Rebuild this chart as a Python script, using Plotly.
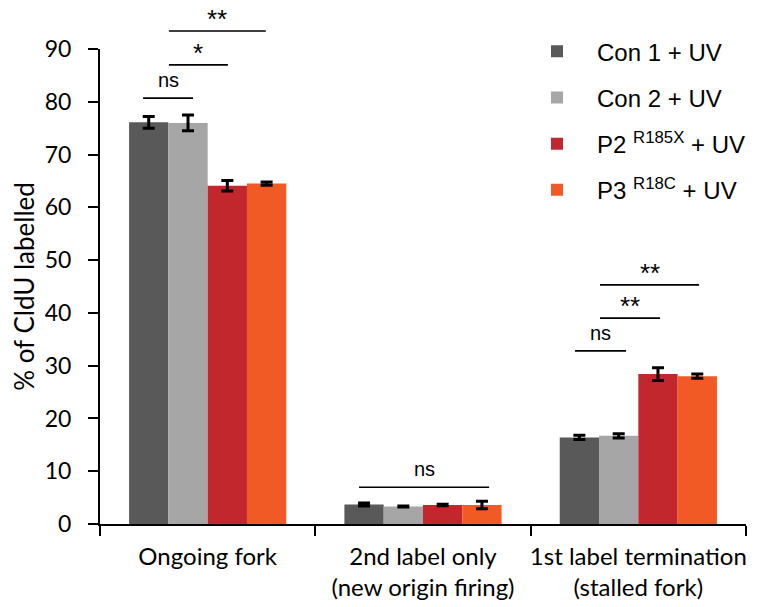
import plotly.graph_objects as go

# ---------------- data ----------------
categories = ["Ongoing fork",
              "2nd label only<br>(new origin firing)",
              "1st label termination<br>(stalled fork)"]
series_names = ["Con 1 + UV", "Con 2 + UV",
                "P2 <sup>R185X</sup> + UV", "P3 <sup>R18C</sup> + UV"]
con1 = [76.1, 3.7, 16.4]
con1_err = [1.1, 0.3, 0.4]
con2 = [76.0, 3.3, 16.7]
con2_err = [1.5, 0.1, 0.4]
p2 = [64.1, 3.6, 28.4]
p2_err = [1.0, 0.15, 1.2]
p3 = [64.5, 3.6, 28.0]
p3_err = [0.3, 0.7, 0.4]
y_ticks = [0, 10, 20, 30, 40, 50, 60, 70, 80, 90]

# significance brackets (category index, start / end offset within category, height, label)
sig_cat = [0, 0, 0, 1, 2, 2, 2]
sig_x0 = [-0.30, -0.18, -0.18, -0.297, -0.294, -0.178, -0.178]
sig_x1 = [-0.068, 0.094, 0.27, 0.307, -0.057, 0.101, 0.282]
sig_y = [80.7, 87.0, 93.4, 6.95, 32.8, 39.0, 45.3]
sig_text = ["ns", "*", "**", "ns", "ns", "**", "**"]

colors = ["#595959", "#A6A6A6", "#C1272D", "#F15A24"]
values = [con1, con2, p2, p3]
errors = [con1_err, con2_err, p2_err, p3_err]

ARIAL = "Liberation Sans, Arial"

# layout geometry (page has an 8px body margin)
W, H = 764, 607
M_L, M_R, M_T, M_B = 92, 26, 0, 91
plot_h = H - M_T - M_B
y_top_px = 475  # pixels used by the 0-90 range
dom = y_top_px / plot_h
y2_max = 90 / dom

fig = go.Figure()
for name, vals, errs, col in zip(series_names, values, errors, colors):
    fig.add_trace(go.Bar(
        x=categories, y=vals, name="\u00a0\u00a0\u00a0" + name,
        marker=dict(color=col, line=dict(width=0)),
        error_y=dict(type="data", array=errs, visible=True,
                     color="black", thickness=3, width=6),
        legendgroup=name,
    ))

# invisible helper trace creating a taller overlay subplot for brackets
fig.add_trace(go.Scatter(x=[categories[0]], y=[None], yaxis="y2",
                         mode="markers", showlegend=False, hoverinfo="skip"))

label_shift = {"ns": 5, "*": -5, "**": -5}
label_size = {"ns": 20, "*": 26, "**": 26}
for c, a, b, yv, t in zip(sig_cat, sig_x0, sig_x1, sig_y, sig_text):
    fig.add_shape(type="line", xref="x", yref="y2",
                  x0=c + a, x1=c + b, y0=yv, y1=yv,
                  line=dict(color="black", width=1.6))
    fig.add_annotation(xref="x", yref="y2", x=c + (a + b) / 2, y=yv,
                       text=t, showarrow=False, yanchor="bottom",
                       yshift=label_shift[t],
                       font=dict(family=ARIAL, size=label_size[t],
                                 color="black"))

fig.update_layout(
    width=W, height=H,
    margin=dict(l=M_L, r=M_R, t=M_T, b=M_B, autoexpand=False),
    paper_bgcolor="white", plot_bgcolor="rgba(0,0,0,0)",
    barmode="group", bargap=0.27, bargroupgap=0,
    showlegend=True,
    legend=dict(x=0.6765, y=0.959, xanchor="left", yanchor="top",
                font=dict(family=ARIAL, size=24, color="black"),
                bgcolor="rgba(0,0,0,0)", tracegroupgap=12,
                traceorder="grouped"),
    xaxis=dict(type="category", categoryorder="array", categoryarray=categories,
               showline=True, linecolor="black", linewidth=2,
               ticks="outside", tickson="boundaries", ticklen=10,
               tickwidth=2, tickcolor="black",
               tickfont=dict(family="Lato", size=24, color="black"),
               ticklabelstandoff=10,
               tickangle=0, automargin=False,
               showgrid=False, zeroline=False),
    yaxis=dict(domain=[0, dom], range=[0, 90], tickvals=y_ticks,
               showline=True, linecolor="black", linewidth=2,
               ticks="outside", ticklen=10, tickwidth=2, tickcolor="black",
               tickfont=dict(family="Lato", size=23, color="black"),
               ticklabelstandoff=12, automargin=False,
               showgrid=False, zeroline=False,
               title=dict(text="% of CldU labelled",
                          font=dict(family="Lato", size=26, color="black"),
                          standoff=6)),
    yaxis2=dict(domain=[0, 1], range=[0, y2_max], anchor="x",
                visible=False, showgrid=False, zeroline=False),
)

fig.write_html("out.html")
